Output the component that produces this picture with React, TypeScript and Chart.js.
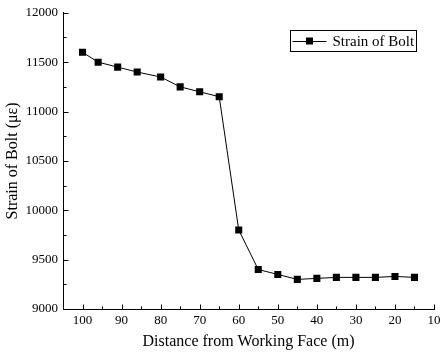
import React, { useEffect, useRef } from "react";
import { Chart, registerables } from "chart.js";

Chart.register(...registerables);

const distances = [100, 96, 91, 86, 80, 75, 70, 65, 60, 55, 50, 45, 40, 35, 30, 25, 20, 15];
const strainValues = [11600, 11500, 11450, 11400, 11350, 11250, 11200, 11150, 9800, 9400, 9350, 9300, 9310, 9320, 9320, 9320, 9330, 9320];
const xMajorTicks = [100, 90, 80, 70, 60, 50, 40, 30, 20, 10];
const xMinorTicks = [95, 85, 75, 65, 55, 45, 35, 25, 15];
const yMajorTicks = [9000, 9500, 10000, 10500, 11000, 11500, 12000];
const yMinorTicks = [9250, 9750, 10250, 10750, 11250, 11750];

const seriesName = "Strain of Bolt";
const xTitle = "Distance from Working Face (m)";
const yTitle = "Strain of Bolt (\u03bc\u03b5)";

const FONT = "'Liberation Serif', 'Times New Roman', serif";

const inwardTicks = {
  id: "inwardTicks",
  afterDraw(chart: any) {
    const ctx = chart.ctx;
    const xs = chart.scales.x;
    const ys = chart.scales.y;
    const area = chart.chartArea;
    ctx.save();
    ctx.strokeStyle = "#000";
    ctx.lineWidth = 1;
    ctx.beginPath();
    const bottom = Math.round(area.bottom) + 0.5;
    const left = Math.round(area.left) + 0.5;
    const drawX = (v: number, len: number) => {
      const px = Math.round(xs.getPixelForValue(v)) + 0.5;
      ctx.moveTo(px, bottom);
      ctx.lineTo(px, bottom - len);
    };
    const drawY = (v: number, len: number) => {
      const py = Math.round(ys.getPixelForValue(v)) + 0.5;
      ctx.moveTo(left, py);
      ctx.lineTo(left + len, py);
    };
    xMajorTicks.forEach((v) => drawX(v, 5));
    xMinorTicks.forEach((v) => drawX(v, 3));
    yMajorTicks.forEach((v) => drawY(v, 5));
    yMinorTicks.forEach((v) => drawY(v, 3));
    ctx.stroke();

    // legend
    const bx = Math.round(area.right) - 143.5;
    const by = Math.round(area.top) + 17.5;
    const bw = 126;
    const bh = 21;
    ctx.fillStyle = "#fff";
    ctx.fillRect(bx, by, bw, bh);
    ctx.strokeRect(bx, by, bw, bh);
    const cy = by + bh / 2;
    ctx.beginPath();
    ctx.moveTo(bx + 2, Math.round(cy) + 0.5);
    ctx.lineTo(bx + 36, Math.round(cy) + 0.5);
    ctx.stroke();
    ctx.fillStyle = "#000";
    ctx.fillRect(bx + 19 - 3.5, cy - 3.5, 7, 7);
    ctx.font = `15px ${FONT}`;
    ctx.textBaseline = "middle";
    ctx.textAlign = "left";
    ctx.fillText(seriesName, bx + 42, cy + 1);
    ctx.restore();
  },
};

export default function App() {
  const ref = useRef<HTMLCanvasElement | null>(null);
  useEffect(() => {
    document.body.style.margin = "0";
    if (!ref.current) return;
    const chart = new Chart(ref.current, {
      type: "line",
      data: {
        datasets: [
          {
            label: seriesName,
            data: distances.map((d, i) => ({ x: d, y: strainValues[i] })),
            borderColor: "#000",
            backgroundColor: "#000",
            borderWidth: 1,
            pointStyle: "rect",
            pointRadius: 5,
            pointHoverRadius: 5,
            pointBorderWidth: 0,
            tension: 0,
            fill: false,
          },
        ],
      },
      options: {
        responsive: false,
        animation: false,
        devicePixelRatio: 1,
        layout: { padding: { top: 9, right: 12, left: 0, bottom: 0 } },
        plugins: { legend: { display: false }, tooltip: { enabled: false } },
        scales: {
          x: {
            type: "linear",
            reverse: true,
            min: 10,
            max: 105,
            afterBuildTicks: (s: any) => {
              s.ticks = xMajorTicks.map((v) => ({ value: v }));
            },
            afterFit: (s: any) => {
              s.height = 49;
            },
            grid: { display: true, drawOnChartArea: false, drawTicks: false },
            border: { display: true, color: "#000", width: 1 },
            ticks: { color: "#000", font: { family: FONT, size: 13 }, padding: 4, maxRotation: 0, autoSkip: false, callback: (v: any) => String(v) },
            title: { display: true, text: xTitle, color: "#000", font: { family: FONT, size: 16 }, padding: { top: 0, bottom: 7 } },
          },
          y: {
            type: "linear",
            min: 9000,
            max: 12000,
            afterBuildTicks: (s: any) => {
              s.ticks = yMajorTicks.map((v) => ({ value: v }));
            },
            afterFit: (s: any) => {
              s.width = 63;
            },
            grid: { display: true, drawOnChartArea: false, drawTicks: false },
            border: { display: true, color: "#000", width: 1 },
            ticks: { color: "#000", font: { family: FONT, size: 13 }, padding: 5, autoSkip: false, callback: (v: any) => String(v) },
            title: { display: true, text: yTitle, color: "#000", font: { family: FONT, size: 16 }, padding: { top: 3, bottom: 0 } },
          },
        },
      },
      plugins: [inwardTicks],
    });
    return () => chart.destroy();
  }, []);
  return (
    <div style={{ width: 446, height: 358 }}>
      <canvas ref={ref} width={446} height={358} />
    </div>
  );
}
